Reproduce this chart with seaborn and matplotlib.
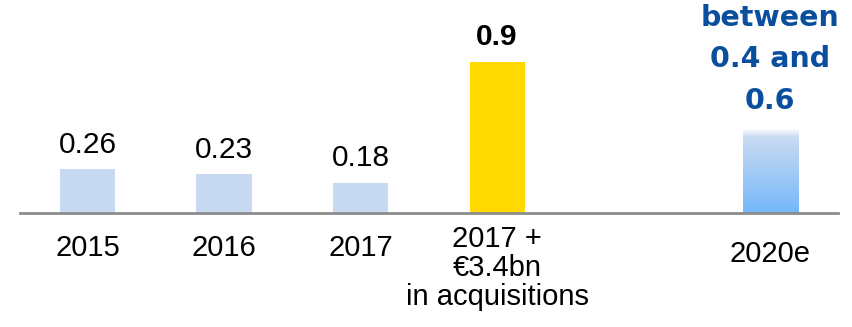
import matplotlib
matplotlib.use("Agg")
import matplotlib.pyplot as plt
import matplotlib.transforms as mtransforms
from matplotlib.colors import LinearSegmentedColormap
import numpy as np
import pandas as pd
import seaborn as sns

# Net debt / EBITDA style ratio by period
categories = ["2015", "2016", "2017", "2017 +\n€3.4bn\nin acquisitions", "2020e"]
positions = [0, 1, 2, 3, 5]
values = [0.26, 0.23, 0.18, 0.9, 0.5]
value_labels = ["0.26", "0.23", "0.18", "0.9", "between\n0.4 and\n0.6"]

LIGHT_BLUE = "#c6d9f1"
YELLOW = "#ffd900"
DARK_BLUE = "#0a4f9e"
AXIS_GREY = "#8c8c8c"

sns.set_theme(style="white")
plt.rcParams["font.family"] = ["Liberation Sans", "DejaVu Sans"]

fig = plt.figure(figsize=(8.52, 3.27), dpi=100)
ax = fig.add_axes([20 / 852, (327 - 213) / 327, 818 / 852, 213 / 327])

df = pd.DataFrame({"pos": positions, "value": values, "cat": categories})
bar_colors = [LIGHT_BLUE, LIGHT_BLUE, LIGHT_BLUE, YELLOW, "#ffffff"]
sns.barplot(data=df, x="pos", y="value", hue="cat", palette=bar_colors,
            native_scale=True, width=0.403, dodge=False, legend=False,
            saturation=1, linewidth=0, ax=ax)

XLIM = (-0.4945, 5.498)
YLIM = (0, 1.269)

# Gradient fill for the forecast bar
bars = sorted(ax.patches, key=lambda p: p.get_x())
fc_bar = bars[-1]
grad_cmap = LinearSegmentedColormap.from_list(
    "fc", [(0.0, "#74b7fa"), (0.55, "#a9cdf4"), (0.9, "#c8daf1"), (1.0, "#fbfcff")])
grad = np.linspace(0, 1, 256).reshape(-1, 1)
x0 = fc_bar.get_x()
im = ax.imshow(grad, cmap=grad_cmap, origin="lower", aspect="auto",
               extent=[x0, x0 + fc_bar.get_width(), 0, fc_bar.get_height()],
               zorder=fc_bar.get_zorder() + 0.1)
im.set_clip_path(fc_bar)
ax.set_xlim(*XLIM)
ax.set_ylim(*YLIM)

# Value labels above bars
for bar, lab, val in zip(bars, value_labels, values):
    cx = bar.get_x() + bar.get_width() / 2
    if lab == "0.9":
        ax.annotate(lab, (cx, val), xytext=(0, 12), textcoords="offset points",
                    ha="center", va="baseline", fontsize=21.5, fontweight="bold",
                    color="black")
    elif "between" in lab:
        ax.annotate(lab, (cx, val), xytext=(0, 14.5), textcoords="offset points",
                    ha="center", va="baseline", fontsize=20.5, fontweight="bold",
                    color=DARK_BLUE, family=["DejaVu Sans"], linespacing=1.62)
    else:
        ax.annotate(lab, (cx, val), xytext=(0, 12), textcoords="offset points",
                    ha="center", va="baseline", fontsize=21.5, color="black")

# Category labels under the axis
ax.set_xticks(positions)
ax.set_xticklabels(categories, fontsize=21, color="black", linespacing=1.04)
ax.tick_params(axis="x", length=0, pad=15)
ax.set_yticks([])
ax.set_xlabel("")
ax.set_ylabel("")
offsets_pt = [0, 0, 0, 6.5, -4.5]
for tl, dy in zip(ax.get_xticklabels(), offsets_pt):
    tl.set_transform(tl.get_transform() +
                     mtransforms.ScaledTranslation(0, dy / 72, fig.dpi_scale_trans))

for side in ["top", "right", "left"]:
    ax.spines[side].set_visible(False)
ax.spines["bottom"].set_color(AXIS_GREY)
ax.spines["bottom"].set_linewidth(2)
ax.patch.set_alpha(0)

fig.savefig("out.png", dpi=100)
